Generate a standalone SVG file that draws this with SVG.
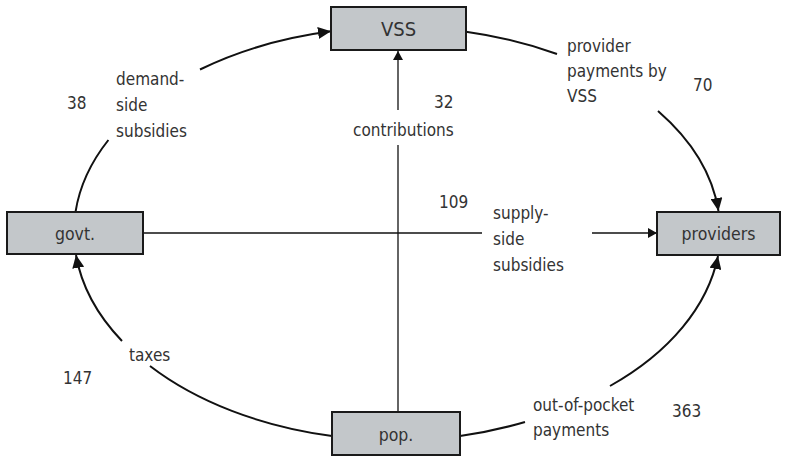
<svg xmlns="http://www.w3.org/2000/svg" width="786" height="457" viewBox="0 0 786 457">
<style>
text{font-family:"DejaVu Sans Condensed","DejaVu Sans",sans-serif;font-stretch:condensed;fill:#333;font-size:17px}
.box{fill:#c3c7ca;stroke:#1a1a1a;stroke-width:2}
.bt{text-anchor:middle;font-size:17.5px}
.arc{fill:none;stroke:#111;stroke-width:2}
.ln{fill:none;stroke:#111;stroke-width:1.3}
</style>
<defs>
<marker id="ah" markerUnits="userSpaceOnUse" markerWidth="14" markerHeight="12" refX="13" refY="6" orient="auto"><path d="M0,0 L13,6 L0,12 z" fill="#111"/></marker>
<marker id="as" markerUnits="userSpaceOnUse" markerWidth="10" markerHeight="10" refX="9" refY="5" orient="auto"><path d="M0,0 L9,5 L0,10 z" fill="#111"/></marker>
</defs>
<g id="connectors">
<path class="arc" d="M75.5,212 A323,205 0 0,1 108.4,140"/>
<path class="arc" d="M200,69.5 A323,205 0 0,1 331,31.3" marker-end="url(#ah)"/>
<path class="arc" d="M466,31.7 A323,205 0 0,1 557,54"/>
<path class="arc" d="M658,111 A323,205 0 0,1 718.5,211" marker-end="url(#ah)"/>
<path class="arc" d="M460,436 A323,208 0 0,0 525,422"/>
<path class="arc" d="M610,386 A323,208 0 0,0 718,256" marker-end="url(#ah)"/>
<path class="arc" d="M332,436 A323,208 0 0,1 150,366"/>
<path class="arc" d="M122,341 A323,208 0 0,1 76,255" marker-end="url(#ah)"/>
<line class="ln" x1="143" y1="233" x2="482" y2="233"/>
<line class="ln" x1="592" y1="233" x2="657" y2="233" marker-end="url(#as)"/>
<line class="ln" x1="398" y1="412" x2="398" y2="145"/>
<line class="ln" x1="398" y1="110" x2="398" y2="51" marker-end="url(#as)"/>
</g>
<g id="vss"><rect class="box" x="331" y="7" width="135" height="43"/><text class="bt" x="398.5" y="35.5" style="font-size:20px">VSS</text></g>
<g id="govt"><rect class="box" x="7" y="212" width="136" height="42"/><text class="bt" x="75" y="240">govt.</text></g>
<g id="providers"><rect class="box" x="657" y="212" width="123" height="43"/><text class="bt" x="718.5" y="239.5">providers</text></g>
<g id="pop"><rect class="box" x="332" y="412" width="128" height="43"/><text class="bt" x="396" y="441">pop.</text></g>
<g id="labels">
<text x="67" y="109">38</text>
<text x="116" y="85">demand-</text>
<text x="116" y="111">side</text>
<text x="116" y="137">subsidies</text>
<text x="434" y="108">32</text>
<text x="353" y="136">contributions</text>
<text x="567" y="52">provider</text>
<text x="567" y="77">payments by</text>
<text x="567" y="102">VSS</text>
<text x="693" y="91">70</text>
<text x="439" y="208">109</text>
<text x="493" y="219">supply-</text>
<text x="493" y="245">side</text>
<text x="493" y="271">subsidies</text>
<text x="129" y="361">taxes</text>
<text x="63" y="384">147</text>
<text x="533" y="411">out-of-pocket</text>
<text x="533" y="436">payments</text>
<text x="672" y="417">363</text>
</g>
</svg>
